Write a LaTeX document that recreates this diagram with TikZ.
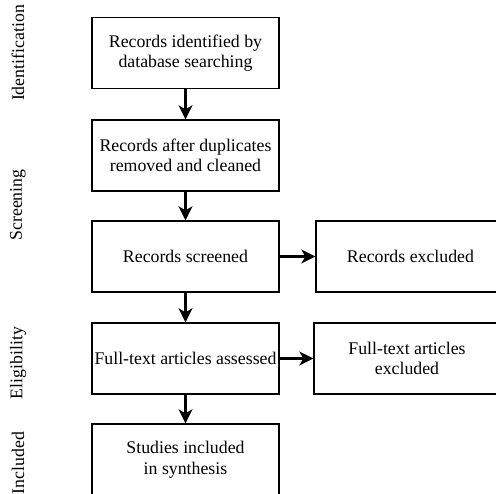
\documentclass[tikz,border=0pt]{standalone}
\usepackage{fontspec}
\setmainfont{Liberation Serif}
\usetikzlibrary{arrows.meta}

\begin{document}
\begin{tikzpicture}[x=1pt,y=-1pt,
		stagebox/.style={draw,line width=1.4pt,align=center,minimum width=187pt,minimum height=71pt,inner sep=2pt,font=\fontsize{17.8}{20.5}\selectfont},
		phase/.style={rotate=90,inner sep=0pt,font=\fontsize{17.8}{20.5}\selectfont},
		arr/.style={line width=2.2pt,-{Stealth[length=14pt,width=14pt,inset=4pt]}}]
				\useasboundingbox (0,0) rectangle (496,494);
				
				% stages on the left
				\node [stagebox] (ident) at (185.5,53) {Records identified by\\database searching};
				\node [stagebox] (dupl) at (185.5,155.5) {Records after duplicates\\removed and cleaned};
				\node [stagebox] (screen) at (185.5,256.5) {Records screened};
				\node [stagebox] (full) at (185.5,358.5) {Full-text articles assessed};
				\node [stagebox] (incl) at (185.5,459.5) {Studies included\\in synthesis};
				
				% excluded boxes
				\node [stagebox,minimum width=189pt] (recex) at (410.5,256.5) {Records excluded};
				\node [stagebox,minimum width=186pt] (fullex) at (407,358.5) {Full-text articles\\excluded};
				
				% phase labels
				\foreach \name/\y in {Identification/53,Screening/205,Eligibility/363,Included/463}{
					\node [phase] (lab\name) at (18,\y) {\name};
				}
				
				\draw [arr] (ident) -- (dupl);
				\draw [arr] (dupl) -- (screen);
				\draw [arr] (screen) -- (full);
				\draw [arr] (full) -- (incl);
				\draw [arr] (screen) -- (recex);
				\draw [arr] (full) -- (fullex);
				
			\end{tikzpicture}
\end{document}
